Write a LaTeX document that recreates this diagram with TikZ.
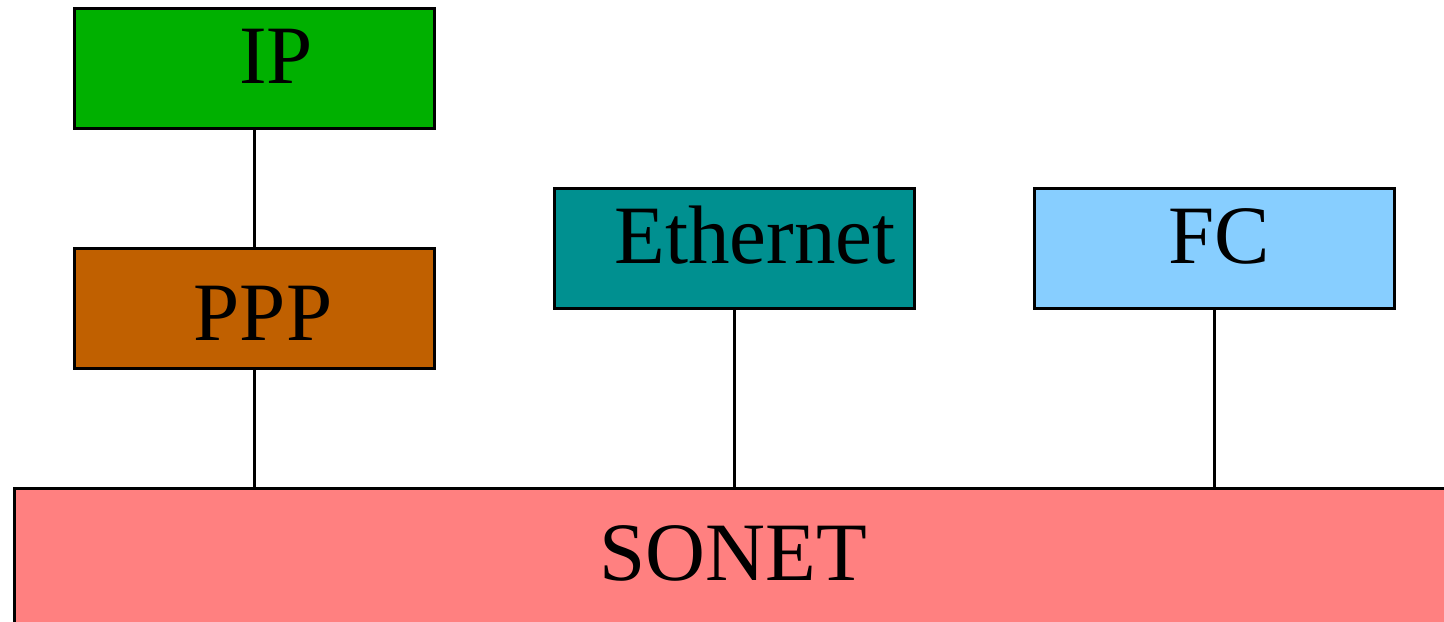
\documentclass[tikz,border=0pt]{standalone}
\usepackage{fontspec}
\setmainfont{Liberation Serif}
\definecolor{ipgreen}{HTML}{00B000}
\definecolor{pppbrown}{HTML}{C06000}
\definecolor{ethteal}{HTML}{009090}
\definecolor{fcblue}{HTML}{87CEFF}
\definecolor{sonetpink}{HTML}{FF8080}
\begin{document}
\begin{tikzpicture}[x=0.5pt,y=-0.5pt,
  layerbox/.style={draw=black,line width=1.5pt,minimum width=180pt,minimum height=60pt,inner sep=0pt,outer sep=0pt,anchor=north west},
  lbl/.style={anchor=base,inner sep=0pt,font=\fontsize{41.5pt}{48pt}\selectfont},
  link/.style={draw=black,line width=1.5pt}]
\useasboundingbox (0,0) rectangle (1444,621);
\clip (0,0) rectangle (1444,621);
\node[layerbox,fill=ipgreen] (ip) at (74,8) {};
\node[layerbox,fill=pppbrown] (ppp) at (74,248) {};
\node[layerbox,fill=ethteal] (eth) at (554,188) {};
\node[layerbox,fill=fcblue] (fc) at (1034,188) {};
\node[layerbox,fill=sonetpink,minimum width=750pt,minimum height=90pt] (sonet) at (14,488) {};
\node[lbl] (iptxt) at (276,83) {IP};
\node[lbl] (ppptxt) at (263,340) {PPP};
\node[lbl] (ethtxt) at (755,263) {Ethernet};
\node[lbl] (fctxt) at (1219,263) {FC};
\node[lbl] (sonettxt) at (733,580) {SONET};
\draw[link] (ip.south) -- (ppp.north);
\draw[link] (ppp.south) -- (ppp.south |- sonet.north);
\draw[link] (eth.south) -- (eth.south |- sonet.north);
\draw[link] (fc.south) -- (fc.south |- sonet.north);
\end{tikzpicture}
\end{document}
